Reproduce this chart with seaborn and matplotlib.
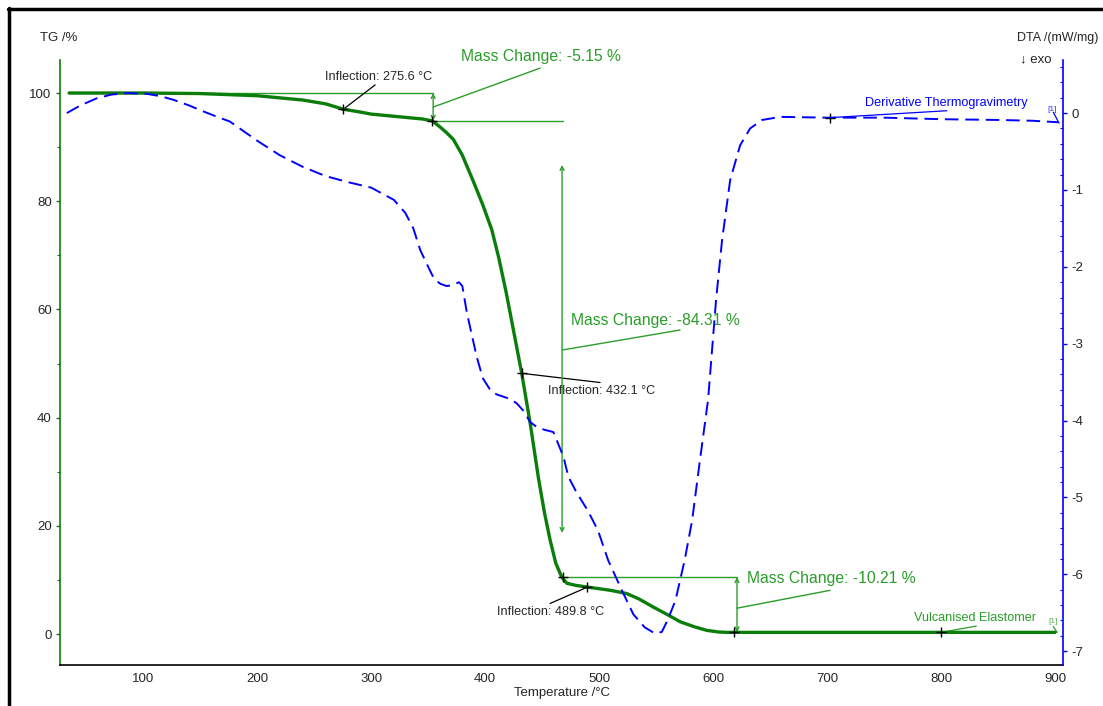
import matplotlib
matplotlib.use("Agg")
import matplotlib.pyplot as plt
import seaborn as sns
import numpy as np
import pandas as pd
from matplotlib.lines import Line2D
from matplotlib.ticker import MultipleLocator

# ---------------- data ----------------
tg_temp = [35, 100, 150, 200, 240, 260, 275.6, 290, 300, 325, 345, 353.5, 360, 366, 372.2,
           380, 390, 398, 405.9, 412, 418.6, 425, 432.1, 439.5, 446.8, 452, 457, 462,
           467.3, 471.7, 480, 489.8, 500, 510, 524.3, 535, 547.6, 560, 571, 583, 594.4,
           605, 612, 618, 700, 800, 900]
tg_mass = [100.0, 100.0, 99.9, 99.5, 98.7, 98.0, 97.0, 96.5, 96.1, 95.6, 95.2, 94.85, 93.8, 92.7, 91.4,
           88.5, 83.5, 79.3, 74.7, 69.5, 63.0, 56.0, 48.2, 39.0, 28.8, 22.5, 17.4, 13.1,
           10.5, 9.4, 9.0, 8.7, 8.4, 8.1, 7.5, 6.5, 5.0, 3.6, 2.3, 1.4, 0.7,
           0.4, 0.33, 0.33, 0.33, 0.33, 0.33]

dtg_temp = [33, 45, 59, 72, 86, 103, 115, 127, 140, 153, 165, 176, 200, 220, 240, 260, 280,
            300, 320, 330, 337, 343, 350, 355, 360.5, 366, 372, 377, 380, 384, 392.6, 398,
            404.4, 410, 416, 422, 428, 434, 439.5, 445, 452, 459.9, 464, 468.7, 473, 480,
            490, 499, 508, 520, 530, 540, 549, 555, 560, 567, 575, 581.6, 588.6, 595.6,
            602.6, 607.9, 615, 623.7, 632.5, 643, 659, 700, 750, 800, 850, 880, 903]
dtg_val = [0.0, 0.1, 0.19, 0.24, 0.26, 0.25, 0.22, 0.17, 0.1, 0.02, -0.05, -0.11, -0.36, -0.55, -0.70, -0.82, -0.90,
           -0.97, -1.13, -1.3, -1.5, -1.78, -2.0, -2.15, -2.22, -2.25, -2.24, -2.2, -2.25, -2.6, -3.17, -3.45,
           -3.6, -3.66, -3.69, -3.72, -3.78, -3.88, -4.02, -4.08, -4.12, -4.15, -4.3, -4.47, -4.73, -4.93,
           -5.17, -5.43, -5.82, -6.21, -6.52, -6.69, -6.77, -6.75, -6.6, -6.34, -5.82, -5.3, -4.5, -3.73,
           -2.43, -1.65, -0.87, -0.42, -0.2, -0.09, -0.05, -0.06, -0.06, -0.08, -0.09, -0.10, -0.12]

x_ticks = [100, 200, 300, 400, 500, 600, 700, 800, 900]
tg_ticks = [0, 20, 40, 60, 80, 100]
dtg_ticks = [-7, -6, -5, -4, -3, -2, -1, 0]

inflections = [(275.6, 97.0), (432.1, 48.2), (489.8, 8.7)]
mass_steps = [100.0, 94.85, 10.54, 0.33]
mass_changes = ["-5.15", "-84.31", "-10.21"]

# ---------------- style ----------------
sns.set_theme(style="white")
plt.rcParams["font.family"] = ["Liberation Sans", "DejaVu Sans"]
plt.rcParams["axes.unicode_minus"] = False

GREEN = "#0a7d0a"
LGREEN = "#2a9d2a"
BLUE = "#0000ff"
MC_FS = 11.3
LBL_FS = 9.1

fig = plt.figure(figsize=(11.03, 7.06), dpi=100)
W, H = 1103, 706
ax = fig.add_axes([60 / W, 1 - 665 / H, (1063 - 60) / W, (665 - 60) / H])
ax2 = ax.twinx()

df_tg = pd.DataFrame({"T": tg_temp, "m": tg_mass})
df_dtg = pd.DataFrame({"T": dtg_temp, "d": dtg_val})

sns.lineplot(data=df_tg, x="T", y="m", ax=ax, color=GREEN, lw=2.4, sort=False, zorder=5)
sns.lineplot(data=df_dtg, x="T", y="d", ax=ax2, color=BLUE, lw=1.4, sort=False,
             dashes=False)
ax2.lines[0].set_dashes([7, 3.5])

ax.set_xlim(27, 907)
ax.set_ylim(-5.7, 106.1)
ax2.set_ylim(-7.18, 0.69)

# spines
for s in ["top", "right"]:
    ax.spines[s].set_visible(False)
for s in ["top", "left", "bottom"]:
    ax2.spines[s].set_visible(False)
ax.spines["left"].set_color(GREEN)
ax.spines["bottom"].set_color("black")
ax2.spines["right"].set_color(BLUE)
for s in [ax.spines["left"], ax.spines["bottom"], ax2.spines["right"]]:
    s.set_linewidth(1.2)

ax.set_xticks(x_ticks)
ax.xaxis.set_minor_locator(MultipleLocator(20))
ax.set_yticks(tg_ticks)
ax.yaxis.set_minor_locator(MultipleLocator(10))
ax2.set_yticks(dtg_ticks)
ax2.yaxis.set_minor_locator(MultipleLocator(0.2))
ax.tick_params(axis="x", which="both", direction="out", color="black", labelsize=9.5, pad=2)
ax.tick_params(axis="x", which="major", length=4, width=1)
ax.tick_params(axis="x", which="minor", length=2.5, width=0.8)
ax.tick_params(axis="y", which="both", direction="out", color=GREEN, labelsize=9.5, pad=3)
ax.tick_params(axis="y", which="major", length=3, width=1)
ax.tick_params(axis="y", which="minor", length=2, width=0.8)
ax2.tick_params(axis="y", which="major", direction="out", length=3, width=1, color=BLUE,
                labelsize=9.5, pad=3)
ax2.tick_params(axis="y", which="minor", direction="in", length=2.5, width=0.8, color=BLUE)
ax.set_xlabel("Temperature /°C", fontsize=9.5, labelpad=1)
ax.set_ylabel("")
ax2.set_ylabel("")
ax.grid(False)
ax2.grid(False)

fig.text(40 / W, 1 - 38 / H, "TG /%", fontsize=9.5, va="center", ha="left")
fig.text(1017 / W, 1 - 38 / H, "DTA /(mW/mg)", fontsize=9, va="center", ha="left")
fig.text(1020 / W, 1 - 59 / H, "↓ exo", fontsize=9.5, va="center", ha="left")

# frame lines of the page
fig.add_artist(Line2D([8 / W, 1.0], [1 - 9 / H, 1 - 9 / H], color="black", lw=2.5))
fig.add_artist(Line2D([9 / W, 9 / W], [0, 1 - 8 / H], color="black", lw=2.5))

# ---------------- annotations ----------------
# step 1
ax.plot([35, 354.4], [mass_steps[0]] * 2, color=LGREEN, lw=1, clip_on=False)
ax.plot([354.4, 468.4], [mass_steps[1]] * 2, color=LGREEN, lw=1)
ax.annotate("", xy=(354.4, mass_steps[1]), xytext=(354.4, mass_steps[0]),
            arrowprops=dict(arrowstyle="<->", color=LGREEN, lw=1, mutation_scale=7,
                            shrinkA=0, shrinkB=0))
ax.plot([354.4, 448.2], [97.4, 104.6], color=LGREEN, lw=1)
ax.text(449, 106.7, f"Mass Change: {mass_changes[0]} %", color=LGREEN, fontsize=MC_FS,
        ha="center", va="center", clip_on=False)
# step 2
ax.annotate("", xy=(467.5, 18.7), xytext=(467.5, 86.7),
            arrowprops=dict(arrowstyle="<->", color=LGREEN, lw=1, mutation_scale=7,
                            shrinkA=0, shrinkB=0))
ax.plot([467.5, 571], [52.5, 56.2], color=LGREEN, lw=1)
ax.text(549, 57.9, f"Mass Change: {mass_changes[1]} %", color=LGREEN, fontsize=MC_FS,
        ha="center", va="center")
# step 3
ax.plot([469.3, 621], [mass_steps[2]] * 2, color=LGREEN, lw=1)
ax.annotate("", xy=(621, mass_steps[3]), xytext=(621, mass_steps[2]),
            arrowprops=dict(arrowstyle="<->", color=LGREEN, lw=1, mutation_scale=7,
                            shrinkA=0, shrinkB=0))
ax.plot([621, 702.6], [4.8, 8.1], color=LGREEN, lw=1)
ax.text(703.5, 10.2, f"Mass Change: {mass_changes[2]} %", color=LGREEN, fontsize=MC_FS,
        ha="center", va="center")

# markers
cross = [(353.5, mass_steps[1]), (468.4, mass_steps[2]), (618, mass_steps[3]), (800, mass_steps[3])]
for (xx, yy) in inflections + cross:
    ax.plot([xx], [yy], marker="+", color="black", ms=7, mew=1, zorder=6)

# inflection labels
ax.plot([275.6, 303.5], [97.0, 101.5], color="black", lw=0.9)
ax.text(306.6, 103.0, "Inflection: 275.6 °C", fontsize=LBL_FS, ha="center", va="center")
ax.plot([432.1, 500.9], [48.2, 46.5], color="black", lw=0.9)
ax.text(501.8, 44.9, "Inflection: 432.1 °C", fontsize=LBL_FS, ha="center", va="center")
ax.plot([489.8, 457], [8.7, 5.67], color="black", lw=0.9)
ax.text(457.6, 4.1, "Inflection: 489.8 °C", fontsize=LBL_FS, ha="center", va="center")

# curve labels
ax.plot([800, 831], [0.33, 1.5], color=LGREEN, lw=0.9)
ax.text(830, 3.0, "Vulcanised Elastomer", color=LGREEN, fontsize=LBL_FS,
        ha="center", va="center")
ax.text(898, 2.4, "[1]", color=LGREEN, fontsize=6, ha="center", va="center", alpha=0.8)
ax.plot([898.5, 902], [1.4, 0.3], color=LGREEN, lw=0.9, clip_on=False)

ax2.plot([702.6], [-0.06], marker="+", color="black", ms=7, mew=1)
ax2.plot([702.6, 805], [-0.06, 0.03], color=BLUE, lw=0.9)
ax2.text(804.6, 0.134, "Derivative Thermogravimetry", color=BLUE, fontsize=LBL_FS,
         ha="center", va="center")
ax2.text(897.7, 0.05, "[1]", color=BLUE, fontsize=6, ha="center", va="center", alpha=0.8)
ax2.plot([898.5, 903.5], [0.01, -0.13], color=BLUE, lw=0.9, clip_on=False)

fig.savefig("out.png", dpi=100, facecolor="white")
